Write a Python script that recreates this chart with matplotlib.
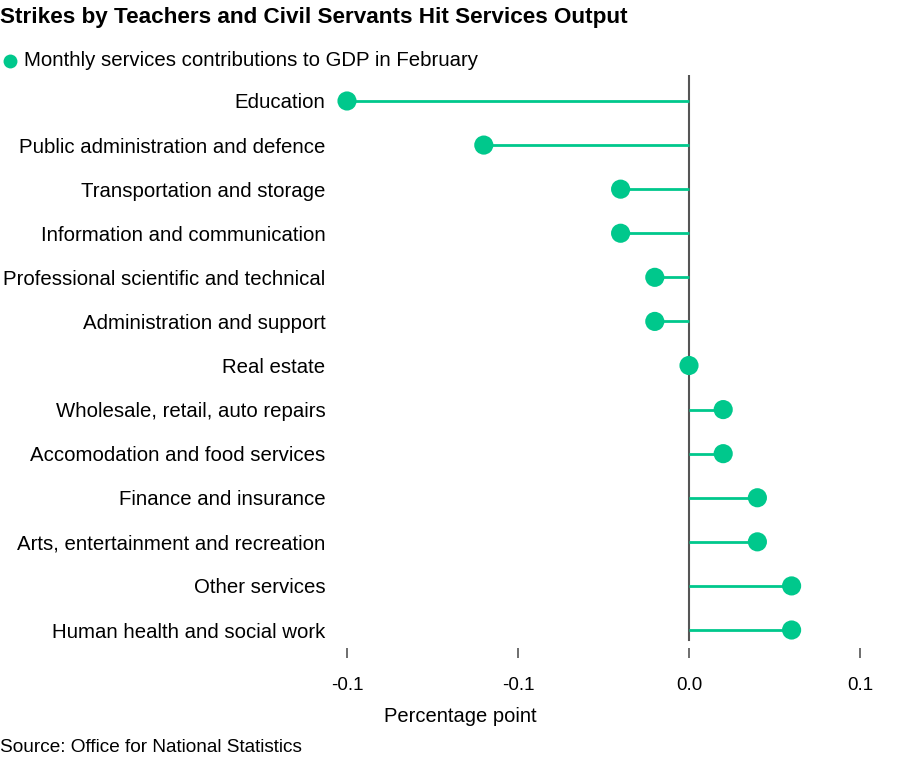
import matplotlib.pyplot as plt
from matplotlib.lines import Line2D
from matplotlib.ticker import FormatStrFormatter

plt.rcParams['font.family'] = ['Liberation Sans', 'DejaVu Sans']

categories = [
    'Education',
    'Public administration and defence',
    'Transportation and storage',
    'Information and communication',
    'Professional scientific and technical',
    'Administration and support',
    'Real estate',
    'Wholesale, retail, auto repairs',
    'Accomodation and food services',
    'Finance and insurance',
    'Arts, entertainment and recreation',
    'Other services',
    'Human health and social work',
]
values = [-0.1, -0.06, -0.02, -0.02, -0.01, -0.01, 0.0,
          0.01, 0.01, 0.02, 0.02, 0.03, 0.03]
x_ticks = [-0.1, -0.05, 0.0, 0.05]

green = '#00c88c'
W, H = 916, 757

fig = plt.figure(figsize=(W / 100, H / 100), dpi=100)
ax = fig.add_axes([335 / W, 1 - 648 / H, 540 / W, 573 / H])

ypos = list(range(len(categories)))
ax.hlines(ypos, 0, values, color=green, lw=2, zorder=2)
ax.scatter(values, ypos, s=190, color=green, zorder=3, edgecolors='none')
ax.axvline(0, ymin=8 / 573, ymax=1, color='#555555', lw=1.5, zorder=1)

ax.set_ylim(len(categories) - 1 + 18 / 44.1, -26 / 44.1)
ax.set_xlim(-0.1 - 12 / 3420, 0.05 + 15 / 3420)
ax.set_yticks(ypos)
ax.set_yticklabels(categories, fontsize=14.7)
ax.set_xticks(x_ticks)
ax.xaxis.set_major_formatter(FormatStrFormatter('%.1f'))
ax.tick_params(axis='y', length=0, pad=7)
ax.tick_params(axis='x', length=7.2, width=1.2, color='#555555',
               labelsize=13.5, pad=14)
for s in ax.spines.values():
    s.set_visible(False)

fig.text(0, 1 - 18 / H, 'Strikes by Teachers and Civil Servants Hit Services Output',
         fontsize=16.2, fontweight='bold', va='center', ha='left')
fig.add_artist(Line2D([10 / W], [1 - 61 / H], marker='o', markersize=10,
                      color=green, markeredgewidth=0, transform=fig.transFigure))
fig.text(24 / W, 1 - 61 / H, 'Monthly services contributions to GDP in February',
         fontsize=14.7, va='center', ha='left')
fig.text(460 / W, 1 - 717 / H, 'Percentage point', fontsize=14.5,
         va='center', ha='center')
fig.text(0, 1 - 748 / H, 'Source: Office for National Statistics', fontsize=13.7,
         va='center', ha='left')

fig.savefig('out.png', dpi=100)
